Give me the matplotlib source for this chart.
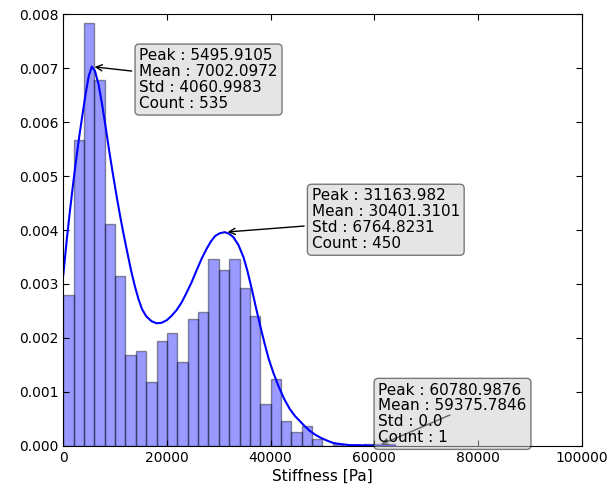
import matplotlib
matplotlib.use("Agg")
import matplotlib.pyplot as plt
import numpy as np

# histogram of stiffness values (bin left edges in Pa, density heights)
bin_width = 2000
bin_left = np.arange(0, 64000, bin_width)
bin_height = [0.00280, 0.00567, 0.00783, 0.00679, 0.00411, 0.00314, 0.00169, 0.00176,
              0.00118, 0.00194, 0.00209, 0.00156, 0.00235, 0.00248, 0.00346, 0.00326,
              0.00346, 0.00293, 0.00241, 0.00078, 0.00123, 0.00046, 0.00025, 0.00037,
              0.00012, 0.0, 0.00003, 0.0, 0.0, 0.00003, 0.00003, 0.00003]

# smoothed density curve
curve_x = [0, 700, 1300, 1900, 2500, 3100, 3700, 4300, 4900, 5496, 6100, 6800,
           7500, 8200, 8900, 9600, 10300, 11000, 11700, 12400, 13100, 13800,
           14500, 15200, 16000, 17000, 18000, 19000, 20000, 20900, 21900, 22850,
           23800, 24800, 25750, 26700, 27700, 28500, 29300, 30200, 31164, 32000,
           32800, 33800, 34750, 35500, 36400, 37200, 38000, 38800, 39600, 40500,
           41500, 42600, 43700, 44700, 45700, 46600, 47500, 48500, 49600, 51000,
           52100, 53500, 55300, 57000, 60000, 64000]
curve_y = [0.00317, 0.00385, 0.00437, 0.00486, 0.00532, 0.00575, 0.00614, 0.00652,
           0.00685, 0.00703, 0.00695, 0.00670, 0.00632, 0.00589, 0.00544, 0.00502,
           0.00462, 0.00424, 0.00389, 0.00356, 0.00324, 0.00296, 0.00272, 0.00253,
           0.00240, 0.00231, 0.00227, 0.00228, 0.00233, 0.00241, 0.00252, 0.00266,
           0.00284, 0.00304, 0.00326, 0.00347, 0.00366, 0.00379, 0.00389, 0.00394,
           0.00396, 0.00393, 0.00387, 0.00372, 0.00350, 0.00325, 0.00289, 0.00255,
           0.00222, 0.00191, 0.00162, 0.00136, 0.00111, 0.00087, 0.00068, 0.00055,
           0.00045, 0.00036, 0.00028, 0.00021, 0.00015, 0.00009, 0.00005, 0.00003,
           0.00001, 0.00001, 0.0, 0.0]

# cluster summaries: peak position, mean, std, count
peaks = [5495.9105, 31163.982, 60780.9876]
peak_heights = [0.00703, 0.00396, 0.0]
means = [7002.0972, 30401.3101, 59375.7846]
stds = [4060.9983, 6764.8231, 0.0]
counts = [535, 450, 1]
label_x = [14660, 47920, 60780]
label_y = [0.00679, 0.00419, 0.00059]

fig = plt.figure(figsize=(6.16, 4.86), dpi=100)
ax = fig.add_axes([63.3 / 616, 1 - 445.7 / 486, 518.3 / 616, 431.4 / 486])

ax.bar(bin_left, bin_height, width=bin_width, align="edge",
       color="b", edgecolor="k", alpha=0.4, linewidth=1)
ax.plot(curve_x, curve_y, color="b", linewidth=1.5)

for i in range(len(peaks)):
    txt = "Peak : {0}\nMean : {1}\nStd : {2}\nCount : {3}".format(
        peaks[i], means[i], stds[i], counts[i])
    ax.annotate(txt, xy=(peaks[i], peak_heights[i]),
                xytext=(label_x[i], label_y[i]), ha="left", va="center",
                fontsize=11, linespacing=1.07,
                bbox=dict(boxstyle="round,pad=0.28", fc="0.8", ec="k", alpha=0.5),
                arrowprops=dict(arrowstyle="->", color="k", lw=1))

ax.set_xlim(0, 100000)
ax.set_ylim(0, 0.008)
ax.tick_params(direction="in", top=True, right=True, length=4, labelsize=10)
ax.set_xlabel("Stiffness [Pa]", fontsize=11, labelpad=3)

plt.savefig("out.png", dpi=100)
